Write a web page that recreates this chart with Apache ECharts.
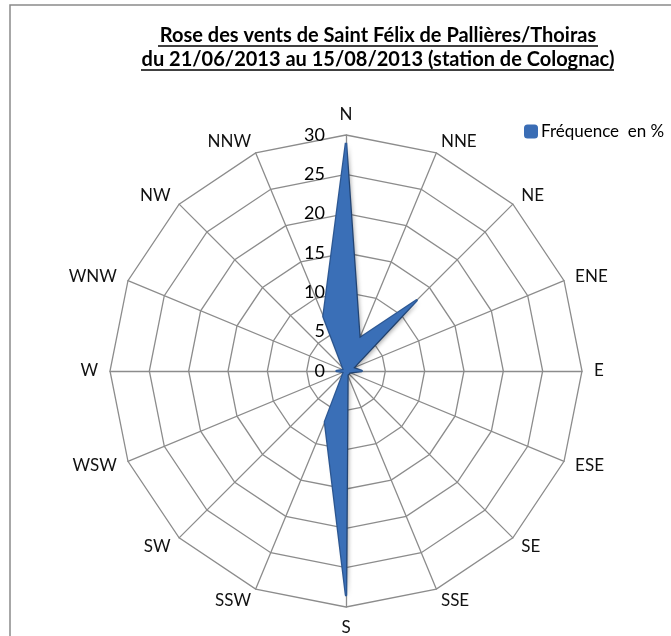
<!DOCTYPE html>
<html>
<head>
<meta charset="utf-8">
<script src="https://cdn.jsdelivr.net/npm/echarts@6/dist/echarts.min.js"></script>
<style>
  html, body { margin: 0; padding: 0; background: #fff; }
  #chart { width: 671px; height: 636px; }
</style>
</head>
<body>
<div id="chart"></div>
<script>
// directions, clockwise from north
const directions = ['N', 'NNE', 'NE', 'ENE', 'E', 'ESE', 'SE', 'SSE', 'S', 'SSW', 'SW', 'WSW', 'W', 'WNW', 'NW', 'NNW'];
const frequences = [29, 4.5, 12.7, 1, 2, 0.5, 0.5, 0.5, 28.5, 7, 0.5, 0.3, 1.2, 0.3, 0.5, 7.5];
const maxValue = 30;
const seriesName = 'Fréquence  en %';
const titleLines = ['Rose des vents de Saint Félix de Pallières/Thoiras', 'du 21/06/2013 au 15/08/2013 (station de Colognac)'];

const font = 'Lato, "Open Sans", sans-serif';

// radar goes counter-clockwise in ECharts, so keep N first then reverse the rest
const order = [0].concat(directions.map((d, i) => i).slice(1).reverse());

const indicators = order.map((i, k) => {
  const ind = { name: directions[i], max: maxValue, min: 0 };
  if (k > 0) ind.axisLabel = { show: false };
  return ind;
});
const values = order.map(i => frequences[i]);

const myChart = echarts.init(document.getElementById('chart'));

const option = {
  backgroundColor: '#fff',
  animation: false,
  legend: {
    left: 519,
    top: 118,
    itemWidth: 14,
    itemHeight: 14,
    itemGap: 6,
    icon: 'roundRect',
    textStyle: { fontFamily: font, fontSize: 17, color: '#000', padding: [0, 0, 0, -2] },
    data: [seriesName]
  },
  radar: {
    center: [346, 371],
    radius: 236,
    startAngle: 90,
    splitNumber: 6,
    shape: 'polygon',
    indicator: indicators,
    axisName: { color: '#111', fontFamily: font, fontSize: 17 },
    nameGap: 12,
    axisLine: { lineStyle: { color: '#8c8c8c', width: 1.3 } },
    splitLine: { lineStyle: { color: '#8c8c8c', width: 1.3 } },
    splitArea: { show: false },
    axisTick: { show: false },
    axisLabel: {
      show: true,
      color: '#000',
      fontFamily: font,
      fontSize: 18,
      margin: 21
    }
  },
  graphic: [
    {
      type: 'rect',
      shape: { x: 10, y: 5, width: 700, height: 700 },
      style: { fill: null, stroke: '#8a8a8a', lineWidth: 1.5 },
      silent: true
    },
    {
      type: 'text',
      x: 378,
      y: 36,
      style: { text: titleLines[0], font: 'bold 20px ' + font, fill: '#000', textAlign: 'center', textVerticalAlign: 'middle' }
    },
    {
      type: 'text',
      x: 378,
      y: 60,
      style: { text: titleLines[1], font: 'bold 20px ' + font, fill: '#000', textAlign: 'center', textVerticalAlign: 'middle' }
    },
    {
      type: 'line',
      shape: { x1: 158, y1: 46, x2: 598, y2: 46 },
      style: { stroke: '#000', lineWidth: 1.4 }
    },
    {
      type: 'line',
      shape: { x1: 141, y1: 70, x2: 614, y2: 70 },
      style: { stroke: '#000', lineWidth: 1.4 }
    }
  ],
  series: [{
    name: seriesName,
    type: 'radar',
    symbol: 'none',
    data: [{ value: values, name: seriesName }],
    lineStyle: { color: '#2f5b98', width: 2.5 },
    itemStyle: { color: '#3a6db5' },
    areaStyle: {
      color: '#3a6fb7',
      opacity: 1,
      shadowColor: 'rgba(0,0,0,0.35)',
      shadowBlur: 4,
      shadowOffsetX: 2,
      shadowOffsetY: 2
    },
    z: 1
  }]
};

myChart.setOption(option);

window.addEventListener('resize', function () {
  myChart.resize();
});
</script>
</body>
</html>
